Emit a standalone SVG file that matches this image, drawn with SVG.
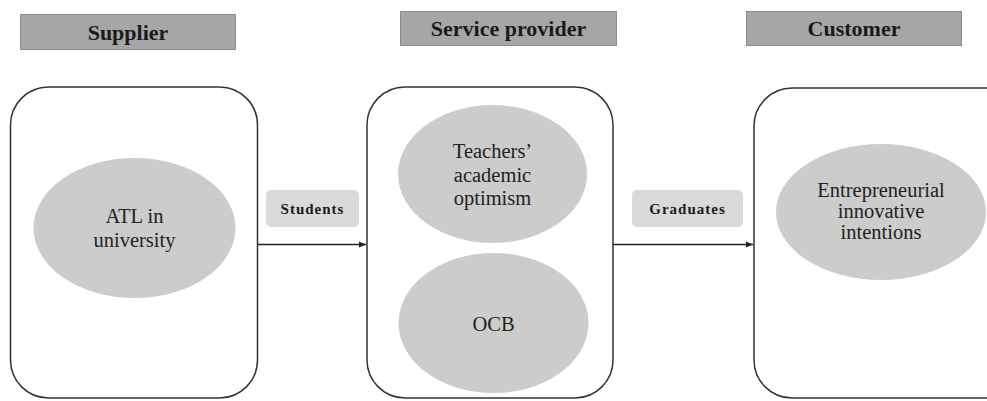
<svg xmlns="http://www.w3.org/2000/svg" width="987" height="401" viewBox="0 0 987 401">
<style>
.hdr{fill:#a6a6a6;stroke:#8c8c8c;stroke-width:1}
.hdrt{font-family:"Liberation Serif","Times New Roman",serif;font-weight:bold;font-size:22px;fill:#1a1a1a;text-anchor:middle}
.box{fill:#ffffff;stroke:#333333;stroke-width:1.5}
.ell{fill:#cccccc;stroke:none}
.et{font-family:"Liberation Serif","Times New Roman",serif;font-size:20.5px;fill:#222222;text-anchor:middle}
.lab{fill:#dadada;stroke:none}
.labt{font-family:"Liberation Serif","Times New Roman",serif;font-weight:bold;font-size:15px;fill:#1a1a1a;text-anchor:middle;letter-spacing:1px}
.conn{stroke:#222222;stroke-width:1.4;fill:none}
</style>
<defs>
<marker id="arr" markerWidth="8" markerHeight="8" refX="7" refY="4" orient="auto" markerUnits="userSpaceOnUse">
<path d="M0,1 L7,4 L0,7 Z" fill="#222222"/>
</marker>
</defs>
<rect width="987" height="401" fill="#ffffff"/>
<g id="hdr-supplier">
<rect class="hdr" x="20.5" y="14.5" width="215" height="35"/>
<text class="hdrt" x="128" y="39.5">Supplier</text>
</g>
<g id="hdr-service">
<rect class="hdr" x="400.5" y="11.5" width="216" height="34"/>
<text class="hdrt" x="508.5" y="36">Service provider</text>
</g>
<g id="hdr-customer">
<rect class="hdr" x="746.5" y="11.5" width="215" height="34"/>
<text class="hdrt" x="854" y="36">Customer</text>
</g>
<g id="supplier">
<rect class="box" x="10.5" y="87" width="247" height="311" rx="38" ry="38"/>
<g id="atl">
<ellipse class="ell" cx="134.5" cy="228" rx="101" ry="70"/>
<text class="et" x="134.5" y="223">ATL in</text>
<text class="et" x="134.5" y="247">university</text>
</g>
</g>
<g id="service">
<rect class="box" x="367" y="87" width="246" height="311" rx="38" ry="38"/>
<g id="teachers">
<ellipse class="ell" cx="492.5" cy="174" rx="94.5" ry="69"/>
<text class="et" x="492.5" y="158">Teachers’</text>
<text class="et" x="492.5" y="182">academic</text>
<text class="et" x="492.5" y="205">optimism</text>
</g>
<g id="ocb">
<ellipse class="ell" cx="493.5" cy="323" rx="95" ry="70"/>
<text class="et" x="493.5" y="331">OCB</text>
</g>
</g>
<g id="customer">
<rect class="box" x="754" y="88" width="280" height="310" rx="38" ry="38"/>
<g id="entre">
<ellipse class="ell" cx="881" cy="212" rx="105" ry="68"/>
<text class="et" x="881" y="197" font-size="20px">Entrepreneurial</text>
<text class="et" x="881" y="218" font-size="20px">innovative</text>
<text class="et" x="881" y="239" font-size="20px">intentions</text>
</g>
</g>
<g id="connectors">
<path class="conn" d="M258,244.5 L366,244.5" marker-end="url(#arr)"/>
<path class="conn" d="M613,244.5 L753,244.5" marker-end="url(#arr)"/>
</g>
<g id="lab-students">
<rect class="lab" x="266" y="190" width="93" height="37" rx="5" ry="5"/>
<text class="labt" x="312.5" y="214">Students</text>
</g>
<g id="lab-graduates">
<rect class="lab" x="632" y="190" width="111" height="37" rx="5" ry="5"/>
<text class="labt" x="687.5" y="214">Graduates</text>
</g>
</svg>
